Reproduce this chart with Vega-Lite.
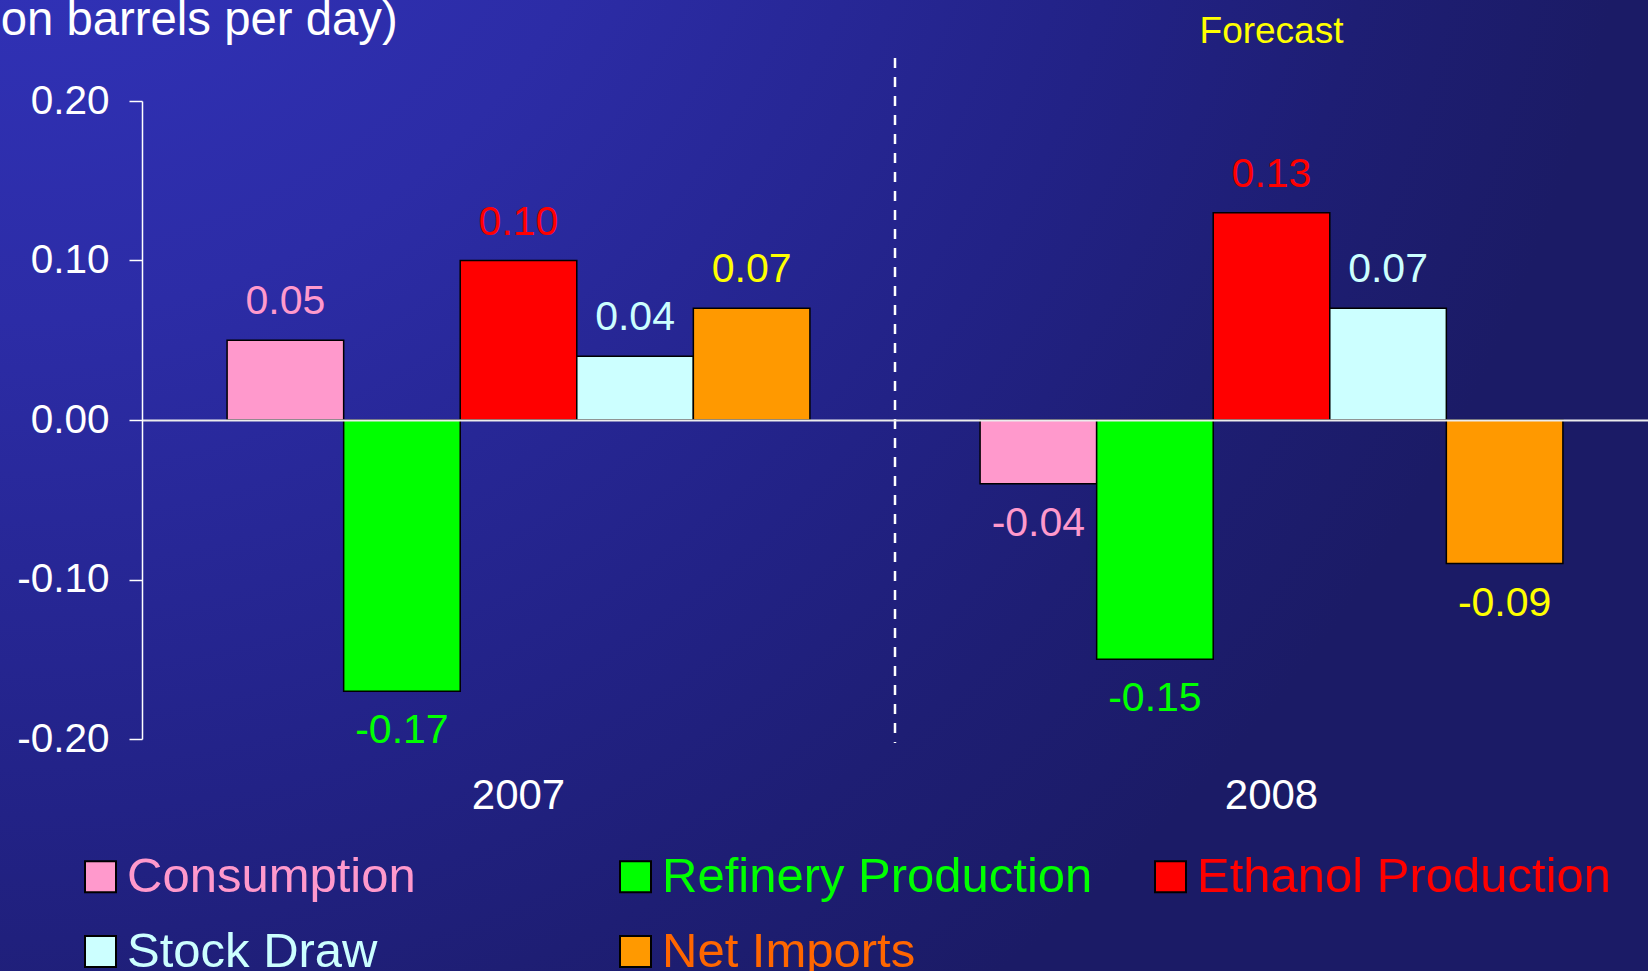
{
  "$schema": "https://vega.github.io/schema/vega-lite/v6.json",
  "width": 1648,
  "height": 971,
  "autosize": {"type": "none"},
  "padding": 0,
  "background": "#1c1c68",
  "view": {
    "stroke": null,
    "fill": {
      "gradient": "radial",
      "x1": 0, "y1": 0, "r1": 0,
      "x2": 0, "y2": 0, "r2": 1,
      "stops": [
        {"offset": 0, "color": "#3436c4"},
        {"offset": 0.4, "color": "#2c2ca6"},
        {"offset": 0.7, "color": "#222286"},
        {"offset": 0.85, "color": "#1e1e74"},
        {"offset": 1, "color": "#1b1b66"}
      ]
    }
  },
  "config": {"font": "Liberation Sans"},
  "data": {
    "values": [
      {"year": "2007", "series": "Consumption", "value": 0.05},
      {"year": "2007", "series": "Refinery Production", "value": -0.17},
      {"year": "2007", "series": "Ethanol Production", "value": 0.10},
      {"year": "2007", "series": "Stock Draw", "value": 0.04},
      {"year": "2007", "series": "Net Imports", "value": 0.07},
      {"year": "2008", "series": "Consumption", "value": -0.04},
      {"year": "2008", "series": "Refinery Production", "value": -0.15},
      {"year": "2008", "series": "Ethanol Production", "value": 0.13},
      {"year": "2008", "series": "Stock Draw", "value": 0.07},
      {"year": "2008", "series": "Net Imports", "value": -0.09}
    ]
  },
  "layer": [
    {
      "mark": {"type": "bar", "stroke": "#000000", "strokeWidth": 1.5},
      "encoding": {
        "x": {
          "field": "year", "type": "nominal",
          "scale": {"range": [142, 1648], "paddingInner": 0, "paddingOuter": 0},
          "axis": {
            "orient": "bottom", "offset": -232, "domain": false, "ticks": false, "grid": false,
            "title": null, "labelFontSize": 42, "labelColor": "#ffffff", "labelPadding": 36,
            "labelFont": "Liberation Sans", "labelAngle": 0
          }
        },
        "xOffset": {
          "field": "series", "type": "nominal",
          "sort": ["Consumption", "Refinery Production", "Ethanol Production", "Stock Draw", "Net Imports"],
          "scale": {"paddingInner": 0, "paddingOuter": 0.73}
        },
        "y": {
          "field": "value", "type": "quantitative", "stack": null,
          "scale": {"domain": [-0.2, 0.2], "range": [739, 101], "nice": false, "zero": false},
          "axis": {
            "orient": "left", "offset": -142, "values": [-0.2, -0.1, 0, 0.1, 0.2],
            "labelExpr": "replace(format(datum.value, '.2f'), '\u2212', '-')",
            "labelFontSize": 40.5, "labelColor": "#ffffff", "labelFont": "Liberation Sans", "labelPadding": 20,
            "tickSize": 13, "tickColor": "#ffffff", "tickWidth": 1.5,
            "domainColor": "#ffffff", "domainWidth": 1.5,
            "grid": true, "gridColor": "#ececec", "gridWidth": 2,
            "gridOpacity": {"condition": {"test": "datum.value === 0", "value": 1}, "value": 0},
            "zindex": 1,
            "title": "(Million barrels per day)", "titleAngle": 0, "titleAlign": "left",
            "titleBaseline": "alphabetic", "titleX": -239, "titleY": 34, "titleFontSize": 47.3,
            "titleFontWeight": "normal", "titleColor": "#ffffff", "titleFont": "Liberation Sans"
          }
        },
        "color": {
          "field": "series", "type": "nominal",
          "scale": {
            "domain": ["Consumption", "Refinery Production", "Ethanol Production", "Stock Draw", "Net Imports"],
            "range": ["#ff99cc", "#00ff00", "#ff0000", "#ccffff", "#ff9900"]
          },
          "legend": {
            "orient": "none", "legendX": 76, "legendY": 852, "direction": "horizontal", "columns": 3,
            "title": null, "symbolType": "square", "symbolSize": 961, "symbolStrokeColor": "#000000",
            "symbolStrokeWidth": 2, "symbolOpacity": 1, "labelFontSize": 49, "labelFont": "Liberation Sans",
            "labelOffset": 2, "labelLimit": 700, "columnPadding": 53, "rowPadding": 25,
            "gridAlign": "all", "padding": 0,
            "encode": {
              "labels": {
                "update": {
                  "fill": {"signal": "datum.value === 'Net Imports' ? '#ff6600' : scale('color', datum.value)"}
                }
              }
            }
          }
        }
      }
    },
    {
      "transform": [{"filter": "datum.value >= 0"}],
      "mark": {
        "type": "text", "baseline": "alphabetic", "dy": -26, "fontSize": 41, "font": "Liberation Sans",
        "text": {"expr": "replace(format(datum.value, '.2f'), '\u2212', '-')"}
      },
      "encoding": {
        "x": {"field": "year", "type": "nominal"},
        "xOffset": {"field": "series", "type": "nominal", "sort": ["Consumption", "Refinery Production", "Ethanol Production", "Stock Draw", "Net Imports"]},
        "y": {"field": "value", "type": "quantitative", "stack": null},
        "color": {
          "condition": {"test": "datum.series === 'Net Imports'", "value": "#ffff00"},
          "field": "series", "type": "nominal", "legend": null
        }
      }
    },
    {
      "transform": [{"filter": "datum.value < 0"}],
      "mark": {
        "type": "text", "baseline": "alphabetic", "dy": 52, "fontSize": 41, "font": "Liberation Sans",
        "text": {"expr": "replace(format(datum.value, '.2f'), '\u2212', '-')"}
      },
      "encoding": {
        "x": {"field": "year", "type": "nominal"},
        "xOffset": {"field": "series", "type": "nominal", "sort": ["Consumption", "Refinery Production", "Ethanol Production", "Stock Draw", "Net Imports"]},
        "y": {"field": "value", "type": "quantitative", "stack": null},
        "color": {
          "condition": {"test": "datum.series === 'Net Imports'", "value": "#ffff00"},
          "field": "series", "type": "nominal", "legend": null
        }
      }
    },
    {
      "data": {"values": [{"boundary": "2007/2008"}]},
      "mark": {"type": "rule", "color": "#ffffff", "strokeWidth": 2.5, "strokeDash": [10, 9]},
      "encoding": {
        "x": {"datum": "2008", "type": "nominal", "bandPosition": 0},
        "y": {"datum": 0.227, "type": "quantitative"},
        "y2": {"datum": -0.2025}
      }
    },
    {
      "data": {"values": [{"label": "Forecast"}]},
      "mark": {"type": "text", "baseline": "alphabetic", "fontSize": 37, "font": "Liberation Sans", "color": "#ffff00"},
      "encoding": {
        "x": {"datum": "2008", "type": "nominal"},
        "y": {"datum": 0.2364, "type": "quantitative"},
        "text": {"field": "label"}
      }
    }
  ]
}
